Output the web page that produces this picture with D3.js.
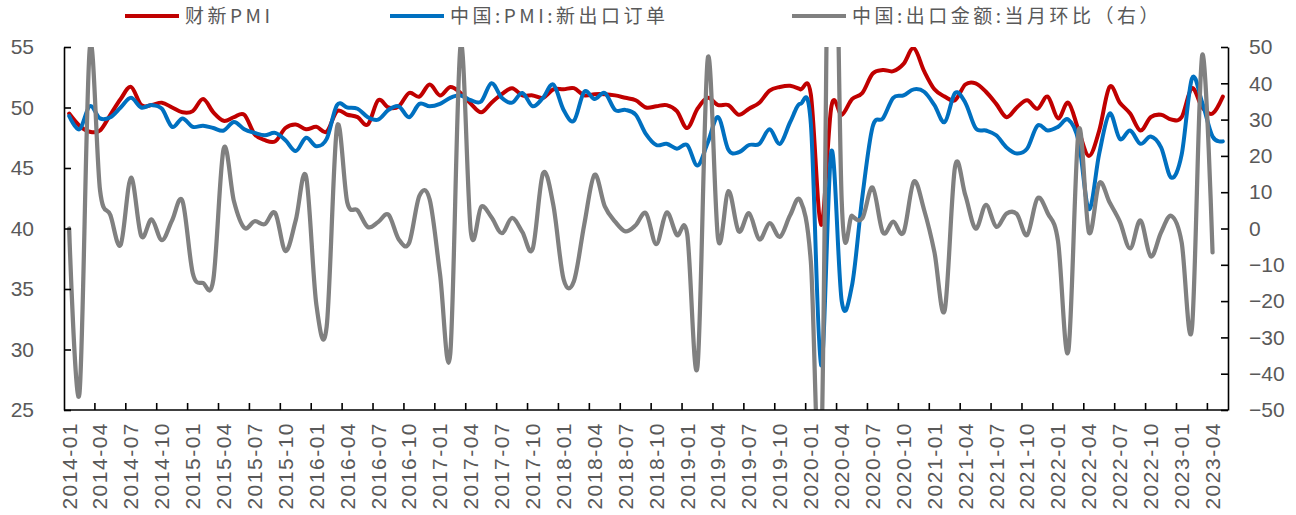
<!DOCTYPE html>
<html>
<head>
<meta charset="utf-8">
<script src="https://cdn.jsdelivr.net/npm/d3@7"></script>
<style>
  body { margin: 0; background: #fff; }
  svg { display: block; }
</style>
</head>
<body>
<svg id="chart" width="1296" height="515"></svg>
<script>
// Monthly categories, 2014-01 .. 2023-05
const months = d3.utcMonth
  .range(new Date(Date.UTC(2014, 0, 1)), new Date(Date.UTC(2023, 5, 1)))
  .map(d3.utcFormat("%Y-%m"));

// 财新PMI
const caixinPMI = [
  49.5, 48.5, 48.0, 48.1, 49.4, 50.7, 51.7, 50.2, 50.2, 50.4, 50.0, 49.6,
  49.7, 50.7, 49.6, 48.9, 49.2, 49.4, 47.8, 47.3, 47.2, 48.3, 48.6, 48.2,
  48.4, 48.0, 49.7, 49.4, 49.2, 48.6, 50.6, 50.0, 50.1, 51.2, 50.9, 51.9,
  51.0, 51.7, 51.2, 50.3, 49.6, 50.4, 51.1, 51.6, 51.0, 51.0, 50.8, 51.5,
  51.5, 51.6, 51.0, 51.1, 51.1, 51.0, 50.8, 50.6, 50.0, 50.1, 50.2, 49.7,
  48.3, 49.9, 50.8, 50.2, 50.2, 49.4, 49.9, 50.4, 51.4, 51.7, 51.8, 51.5,
  51.1, 40.3, 50.1, 49.4, 50.7, 51.2, 52.8, 53.1, 53.0, 53.6, 54.9, 53.0,
  51.5, 50.9, 50.6, 51.9, 52.0, 51.3, 50.3, 49.2, 50.0, 50.6, 49.9, 50.9,
  49.1, 50.4, 48.1, 46.0, 48.1, 51.7, 50.4, 49.5, 48.1, 49.2, 49.4, 49.0,
  49.2, 51.6, 50.0, 49.5, 50.9
];

// 中国:PMI:新出口订单
const newExportOrders = [
  49.3, 48.2, 50.1, 49.1, 49.2, 50.0, 50.8, 50.0, 50.2, 49.9, 48.4, 49.1,
  48.4, 48.5, 48.3, 48.1, 48.8, 48.2, 47.9, 47.7, 47.9, 47.3, 46.4, 47.5,
  46.8, 47.4, 50.2, 50.0, 49.9, 49.2, 49.0, 49.8, 50.1, 49.2, 50.3, 50.1,
  50.3, 50.8, 51.0, 50.6, 50.5, 52.0, 50.8, 50.4, 51.2, 50.1, 50.8, 51.9,
  49.8, 48.9, 51.3, 50.7, 51.2, 49.8, 49.8, 49.4, 47.8, 46.9, 47.0, 46.6,
  46.9, 45.2, 47.1, 49.2, 46.5, 46.3, 46.9, 47.0, 48.2, 47.0, 48.8, 50.3,
  48.7, 28.7, 46.4, 34.0, 35.3, 42.6, 48.4, 49.1, 50.8, 51.0, 51.5, 51.3,
  50.2, 48.8, 51.2, 50.4, 48.3, 48.1, 47.7, 46.7, 46.2, 46.6, 48.5, 48.1,
  48.4, 49.0, 47.2, 41.6, 46.2, 49.5, 47.4, 48.1, 47.0, 47.6, 46.7, 44.2,
  46.1, 52.4, 50.4, 47.6, 47.2
];

// 中国:出口金额:当月环比 (%), right axis, through 2023-04
const exportMoM = [
   0.0, -45.5,  49.5,  10.5,  3.7, -4.5, 14.0, -2.1,  2.5, -3.2,  2.3,  7.6,
 -12.3, -15.0, -14.0,  22.0,  7.5,  0.2,  2.0,  1.2,  4.3, -6.2,  2.3, 14.3,
 -21.0, -27.0,  27.8,   7.2,  5.0,  0.4,  1.8,  3.8, -3.0, -4.0,  9.0,  8.0,
 -12.5, -34.5,  50.4,  -1.0,  6.0,  3.1, -1.3,  2.9, -1.0, -5.6, 15.2,  6.5,
 -14.0, -14.5,   1.0,  14.8,  6.1,  1.9, -0.8,  0.9,  4.2, -4.3,  4.4, -1.8,
  -1.5, -38.0,  46.9,  -2.9, 10.3, -0.8,  4.2, -3.0,  1.5, -2.3,  3.7,  7.7,
  -9.0, -65.0, 145.0,   7.5,  3.5,  2.8, 11.3, -1.1,  1.9, -1.1, 12.9,  5.1,
  -6.5, -22.5,  17.0,   9.2,  0.0,  6.5,  0.5,  4.1,  4.0, -1.8,  8.3,  4.2,
  -3.5, -33.8,  27.0,  -1.1, 12.5,  7.2,  1.9, -5.5,  2.2, -7.7, -1.1,  3.5,
  -3.8, -27.5,  47.8,  -6.6
];

const leftTicks = [25, 30, 35, 40, 45, 50, 55];
const rightTicks = [-50, -40, -30, -20, -10, 0, 10, 20, 30, 40, 50];
const xLabels = months.filter((d, i) => i % 3 === 0);

const seriesNames = ["财新PMI", "中国:PMI:新出口订单", "中国:出口金额:当月环比（右）"];
const seriesColors = ["#C00000", "#0070C0", "#808080"];

// ---- layout ----
const svg = d3.select("#chart");
const plot = { left: 64, right: 1228, top: 47, bottom: 410 };
const labelColor = "#595959";
const numFont = "'Liberation Sans', Arial, sans-serif";

const x = d3.scaleBand().domain(months).range([plot.left, plot.right]).padding(0);
const xc = d => x(d) + x.bandwidth() / 2;
const yL = d3.scaleLinear().domain([25, 55]).range([plot.bottom, plot.top]);
const yR = d3.scaleLinear().domain([-50, 50]).range([plot.bottom, plot.top]);

svg.append("rect").attr("width", 1296).attr("height", 515).attr("fill", "#fff");

svg.append("defs").append("clipPath").attr("id", "plot-clip")
  .append("rect")
  .attr("x", plot.left).attr("y", plot.top)
  .attr("width", plot.right - plot.left).attr("height", plot.bottom - plot.top);

// ---- series ----
const g = svg.append("g").attr("clip-path", "url(#plot-clip)");
const lineL = d3.line().x((d, i) => xc(months[i])).y(d => yL(d)).curve(d3.curveCardinal.tension(0));
const lineR = d3.line().x((d, i) => xc(months[i])).y(d => yR(d)).curve(d3.curveCardinal.tension(0));

g.append("path").datum(caixinPMI).attr("d", lineL)
  .attr("fill", "none").attr("stroke", seriesColors[0]).attr("stroke-width", 4)
  .attr("stroke-linejoin", "round").attr("stroke-linecap", "round");
g.append("path").datum(newExportOrders).attr("d", lineL)
  .attr("fill", "none").attr("stroke", seriesColors[1]).attr("stroke-width", 4)
  .attr("stroke-linejoin", "round").attr("stroke-linecap", "round");
g.append("path").datum(exportMoM).attr("d", lineR)
  .attr("fill", "none").attr("stroke", seriesColors[2]).attr("stroke-width", 4.25)
  .attr("stroke-linejoin", "round").attr("stroke-linecap", "round");

// ---- axes ----
const axL = svg.append("g").attr("transform", `translate(${plot.left},0)`)
  .call(d3.axisLeft(yL).tickValues(leftTicks).tickSizeInner(-7).tickSizeOuter(0).tickPadding(30));
const axR = svg.append("g").attr("transform", `translate(${plot.right},0)`)
  .call(d3.axisRight(yR).tickValues(rightTicks).tickSizeInner(-7).tickSizeOuter(0).tickPadding(21));

[axL, axR].forEach(ax => {
  ax.select(".domain").attr("stroke", "#000").attr("stroke-width", 1.6);
  ax.selectAll(".tick line").attr("stroke", "#000").attr("stroke-width", 1.6);
  ax.selectAll(".tick text").attr("fill", labelColor)
    .style("font-family", numFont).style("font-size", "21px");
});

// category axis: baseline, boundary ticks every quarter, rotated labels
const axB = svg.append("g");
axB.append("line")
  .attr("x1", plot.left).attr("x2", plot.right)
  .attr("y1", plot.bottom).attr("y2", plot.bottom)
  .attr("stroke", "#000").attr("stroke-width", 1.6);
axB.selectAll("line.tick").data(months.filter((d, i) => i % 3 === 0 && i > 0))
  .join("line").attr("class", "tick")
  .attr("x1", d => x(d)).attr("x2", d => x(d))
  .attr("y1", plot.bottom).attr("y2", plot.bottom - 7)
  .attr("stroke", "#000").attr("stroke-width", 1.6);
axB.selectAll("text").data(xLabels).join("text")
  .attr("transform", d => `translate(${xc(d)},${plot.bottom + 12}) rotate(-90)`)
  .attr("text-anchor", "end").attr("dy", "0.35em")
  .attr("fill", labelColor)
  .style("font-family", numFont).style("font-size", "21px")
  .style("letter-spacing", "1.5px")
  .text(d => d);

// ---- legend ----
const legendX = [125, 390, 792];
const legend = svg.append("g");
seriesNames.forEach((name, i) => {
  const lg = legend.append("g").attr("transform", `translate(${legendX[i]},16)`);
  lg.append("line").attr("x1", 0).attr("x2", 54).attr("y1", 0).attr("y2", 0)
    .attr("stroke", seriesColors[i]).attr("stroke-width", 4);
  lg.append("text").attr("x", 60).attr("dy", "0.36em")
    .attr("fill", labelColor)
    .style("font-family", "'Noto Sans CJK SC', sans-serif")
    .style("font-size", "19px").style("letter-spacing", "3.5px")
    .text(name);
});
</script>
</body>
</html>
